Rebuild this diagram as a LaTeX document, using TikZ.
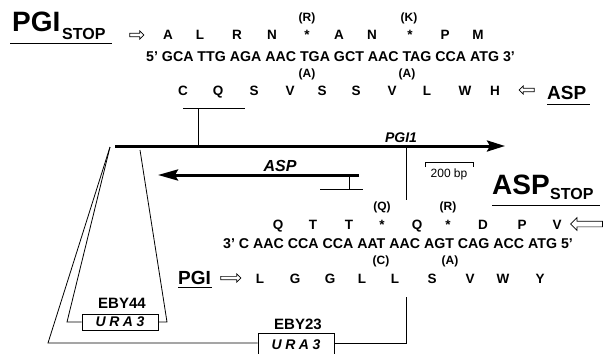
\documentclass[tikz,border=0pt]{standalone}
\usepackage{fontspec}
\setmainfont{Liberation Sans}
\usetikzlibrary{positioning, shapes.arrows, arrows.meta}

\begin{document}
\begin{tikzpicture}[x=1pt, y=-1pt,
  aa/.style={font=\fontsize{13.5}{15}\selectfont\bfseries, anchor=base, inner sep=0pt},
  seq/.style={font=\fontsize{14.2}{16}\selectfont\bfseries, anchor=base west, inner sep=0pt},
  alt/.style={font=\fontsize{12}{14}\selectfont\bfseries, anchor=base, inner sep=0pt},
  heading/.style={font=\fontsize{28}{30}\selectfont\bfseries, anchor=base west, inner sep=0pt},
  sub/.style={font=\fontsize{16}{18}\selectfont\bfseries, anchor=base west, inner sep=0pt},
  tag/.style={font=\fontsize{19}{21}\selectfont\bfseries, anchor=base west, inner sep=0pt},
  gene/.style={font=\fontsize{14}{16}\selectfont\bfseries\itshape, anchor=base, inner sep=0pt},
  strain/.style={font=\fontsize{15}{17}\selectfont\bfseries, anchor=base, inner sep=0pt},
  ura/.style={draw, line width=0.8pt, minimum width=76pt, inner sep=0pt,
    font=\fontsize{14}{16}\selectfont\bfseries\itshape\addfontfeature{LetterSpace=25}},
  hollow/.style={single arrow, draw, line width=0.7pt, inner sep=1.2pt, minimum width=8pt,
    single arrow head extend=2.2pt},
  fine/.style={line width=0.8pt},
  genebar/.style={line width=3pt}]
\useasboundingbox (0,0) rectangle (604,353);
\clip (0,0) rectangle (604,353);

% PGI stop codon strand (top)
\node[heading] (pgiTitle) at (12,32) {PGI};
\node[sub] (pgiStop) at (62,40) {STOP};
\draw[fine] (10,43) -- (112,43);
\node[hollow, minimum height=14pt] (pgiArrowTop) at (136,35) {};
\foreach \x/\a [count=\i] in {168/A,200/L,237/R,272/N,307/*,339/A,372/N,410/*,445/P,478/M}
  \node[aa] (topAA\i) at (\x,40) {\a};
\node[alt] (altR) at (307,22) {(R)};
\node[alt] (altK) at (409,22) {(K)};
\node[seq] (seqTop) at (146,61) {5' GCA TTG AGA AAC TGA GCT AAC TAG CCA ATG 3'};
\node[alt] (altA1) at (307,77) {(A)};
\node[alt] (altA2) at (407,77) {(A)};
\foreach \x/\a [count=\i] in {183/C,218/Q,254/S,290/V,322/S,356/S,392/V,427/L,465/W,495/H}
  \node[aa] (aspAA\i) at (\x,95) {\a};
\node[hollow, shape border rotate=180, minimum height=15pt] (aspArrowTop) at (527.5,90) {};
\node[tag] (aspTag) at (547,99) {ASP};
\draw[fine] (547,104) -- (590,104);

% map of the locus
\coordinate (tickL) at (183,108);
\coordinate (tickR) at (245,108);
\coordinate (tickTop) at (198,108);
\coordinate (tickBar) at (198,146);
\draw[fine] (tickL) -- (tickR);
\draw[fine] (tickTop) -- (tickBar);

\coordinate (barL) at (115,146);
\coordinate (barR) at (505,146);
\draw[genebar, -{Stealth[length=18pt,width=11pt,inset=3pt]}] (barL) -- (barR);
\node[gene] (pgiGene) at (401,142) {PGI1};

\coordinate (cutTop) at (406,146);
\coordinate (cutMid) at (406,200);
\draw[fine] (cutTop) -- (cutMid);

\coordinate (sbL) at (425,162);
\coordinate (sbR) at (473,162);
\draw[fine] ([yshift=-5pt]sbL) -- (sbL) -- (sbR) -- ([yshift=-5pt]sbR);
\node[font=\fontsize{12}{14}\selectfont, anchor=base, inner sep=0pt] (scaleTxt) at (449,177) {200 bp};

\coordinate (aspR) at (359,175);
\coordinate (aspL) at (158,175);
\draw[genebar, -{Stealth[length=20pt,width=11pt,inset=3pt]}] (aspR) -- (aspL);
\node[gene, font=\fontsize{16}{18}\selectfont\bfseries\itshape] (aspGene) at (280,171) {ASP};
\coordinate (aspTick) at (349,175);
\coordinate (aspFootL) at (320,189);
\coordinate (aspFootR) at (363,189);
\draw[fine] (aspTick) -- (aspTick |- aspFootL);
\draw[fine] (aspFootL) -- (aspFootR);

% ASP stop codon strand (bottom)
\node[heading] (aspTitle) at (492,194) {ASP};
\node[sub] (aspStop) at (550,199) {STOP};
\draw[fine] (492,205) -- (600,205);
\node[alt] (altQ) at (382,210) {(Q)};
\node[alt] (altR2) at (448,210) {(R)};
\foreach \x/\a [count=\i] in {278/Q,313/T,349/T,382/*,417/Q,448/*,483/D,522/P,557/V}
  \node[aa] (stopAA\i) at (\x,229) {\a};
\node[hollow, shape border rotate=180, minimum height=32pt, minimum width=12pt,
  inner sep=2.5pt, single arrow head extend=3.5pt] (aspArrowBot) at (588,224) {};
\node[seq] (seqBot) at (223,248) {3' C AAC CCA CCA AAT AAC AGT CAG ACC ATG 5'};
\node[alt] (altC) at (381,264) {(C)};
\node[alt] (altA3) at (450,264) {(A)};
\node[tag] (pgiTag) at (178,284) {PGI};
\draw[fine] (178,287) -- (212,287);
\node[hollow, minimum height=20pt, minimum width=8pt] (pgiArrowBot) at (230,278) {};
\foreach \x/\a [count=\i] in {260/L,295/G,330/G,362/L,395/L,432/S,470/V,503/W,540/Y}
  \node[aa] (pgiAA\i) at (\x,283) {\a};

% URA3 insertions
\node[strain] (eby44) at (122,308) {EBY44};
\node[ura, minimum height=16pt] (ura44) at (120,322) {URA3};
\node[strain] (eby23) at (298,329) {EBY23};
\node[ura, minimum height=24pt] (ura23) at (296,345) {URA3};

\coordinate (apex) at (110,147);
\coordinate (inBL) at (67,322);
\coordinate (inBR) at (167,322);
\coordinate (inTR) at (140,150);
\coordinate (outBL) at (48,343);
\coordinate (cutLow) at (406,297);
\draw[fine] (apex) -- (inBL) -- (ura44.west);
\draw[fine] (ura44.east) -- (inBR) -- (inTR);
\draw[fine] (apex) -- (outBL) -- (outBL -| ura23.west);
\draw[fine] (ura23.east |- outBL) -- (cutLow |- outBL) -- (cutLow);
\end{tikzpicture}
\end{document}
